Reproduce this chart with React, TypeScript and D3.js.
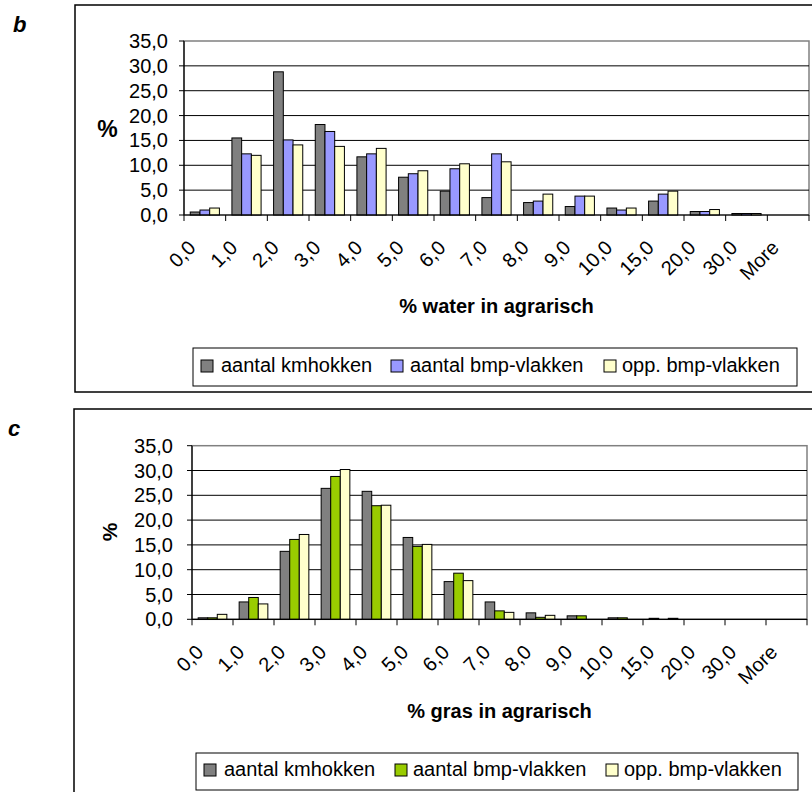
import React from "react";
import * as d3 from "d3";

const categories = ["0,0", "1,0", "2,0", "3,0", "4,0", "5,0", "6,0", "7,0", "8,0", "9,0", "10,0", "15,0", "20,0", "30,0", "More"];
const yTicks = [0, 5, 10, 15, 20, 25, 30, 35];
const seriesNames = ["aantal kmhokken", "aantal bmp-vlakken", "opp. bmp-vlakken"];

// chart b: % water in agrarisch
const waterKmhokken = [0.6, 15.5, 28.8, 18.2, 11.7, 7.6, 4.8, 3.5, 2.5, 1.7, 1.4, 2.8, 0.7, 0.3, 0];
const waterBmpAantal = [1.0, 12.3, 15.1, 16.8, 12.3, 8.3, 9.3, 12.3, 2.8, 3.8, 1.0, 4.2, 0.7, 0.3, 0];
const waterBmpOpp = [1.4, 12.0, 14.1, 13.8, 13.4, 8.9, 10.3, 10.7, 4.2, 3.8, 1.4, 4.8, 1.1, 0.3, 0];

// chart c: % gras in agrarisch
const grasKmhokken = [0.3, 3.5, 13.7, 26.4, 25.8, 16.5, 7.6, 3.5, 1.3, 0.7, 0.3, 0.2, 0, 0, 0];
const grasBmpAantal = [0.3, 4.4, 16.1, 28.8, 22.9, 14.7, 9.3, 1.7, 0.4, 0.7, 0.3, 0, 0, 0, 0];
const grasBmpOpp = [1.0, 3.1, 17.1, 30.2, 23.0, 15.1, 7.8, 1.4, 0.8, 0, 0, 0.2, 0, 0, 0];

const FONT = "'Liberation Sans', Arial, sans-serif";

interface ChartProps {
  letter: string;
  letterX: number;
  title: string;
  series: number[][];
  colors: string[];
  box: { x: number; y: number; h: number };
  plot: { left: number; right: number; top: number; bottom: number };
  yLabelGap: number;
  pct: { x: number; y: number; rotate: boolean; size: number };
  titleY: number;
  legend: { x: number; y: number; w: number; h: number; swatchX: number[]; textX: number[]; baseline: number };
}

const Chart: React.FC<ChartProps> = ({ letter, letterX, title, series, colors, box, plot, yLabelGap, pct, titleY, legend }) => {
  const x = d3.scaleBand<string>()
    .domain(categories)
    .range([plot.left, plot.right])
    .paddingInner(0.3)
    .paddingOuter(0.15);
  const y = d3.scaleLinear().domain([0, 35]).range([plot.bottom, plot.top]);
  const step = x.step();
  const bw = x.bandwidth() / series.length;
  const tickXs = categories.map((c) => x(c)! - (step * 0.3) / 2).concat([plot.right]);

  return (
    <g>
      <rect x={box.x} y={box.y} width={900} height={box.h} fill="#fff" stroke="#000" strokeWidth={1.5} />
      <text x={letterX} y={box.y + 27} fontFamily={FONT} fontSize={22} fontWeight="bold" fontStyle="italic">{letter}</text>

      {/* plot area border */}
      <rect x={plot.left} y={plot.top} width={plot.right - plot.left} height={plot.bottom - plot.top} fill="none" stroke="#808080" strokeWidth={1.5} />

      {/* gridlines */}
      {yTicks.filter((t) => t > 0 && t < 35).map((t) => (
        <line key={t} x1={plot.left} x2={plot.right} y1={y(t)} y2={y(t)} stroke="#000" strokeWidth={1} />
      ))}

      {/* bars */}
      {series.map((vals, si) =>
        vals.map((v, i) =>
          v > 0 ? (
            <rect
              key={`${si}-${i}`}
              x={x(categories[i])! + si * bw}
              y={y(v)}
              width={bw}
              height={y(0) - y(v)}
              fill={colors[si]}
              stroke="#000"
              strokeWidth={1}
            />
          ) : null
        )
      )}

      {/* y axis */}
      <line x1={plot.left} x2={plot.left} y1={plot.top} y2={plot.bottom} stroke="#000" strokeWidth={1.2} />
      {yTicks.map((t) => (
        <g key={t}>
          <line x1={plot.left - 5} x2={plot.left} y1={y(t)} y2={y(t)} stroke="#000" strokeWidth={1} />
          <text x={plot.left - yLabelGap} y={y(t)} textAnchor="end" dominantBaseline="central" fontFamily={FONT} fontSize={20}>
            {d3.format(".1f")(t).replace(".", ",")}
          </text>
        </g>
      ))}

      {/* x axis */}
      <line x1={plot.left} x2={plot.right} y1={plot.bottom} y2={plot.bottom} stroke="#000" strokeWidth={1.2} />
      {tickXs.map((tx, i) => (
        <line key={i} x1={tx} x2={tx} y1={plot.bottom} y2={plot.bottom + 6} stroke="#000" strokeWidth={1} />
      ))}
      {categories.map((c) => {
        const cx = x(c)! + x.bandwidth() / 2;
        return (
          <text
            key={c}
            transform={`translate(${cx - 8},${plot.bottom + 34}) rotate(-45)`}
            textAnchor="end"
            fontFamily={FONT}
            fontSize={20}
          >
            {c}
          </text>
        );
      })}

      {/* axis titles */}
      {pct.rotate ? (
        <text transform={`translate(${pct.x},${pct.y}) rotate(-90)`} textAnchor="middle" dominantBaseline="central" fontFamily={FONT} fontSize={pct.size} fontWeight="bold">%</text>
      ) : (
        <text x={pct.x} y={pct.y} textAnchor="middle" dominantBaseline="central" fontFamily={FONT} fontSize={pct.size} fontWeight="bold">%</text>
      )}
      <text x={(plot.left + plot.right) / 2} y={titleY} textAnchor="middle" fontFamily={FONT} fontSize={20} fontWeight="bold">{title}</text>

      {/* legend */}
      <rect x={legend.x} y={legend.y} width={legend.w} height={legend.h} fill="#fff" stroke="#000" strokeWidth={1} />
      {seriesNames.map((name, i) => (
        <g key={name}>
          <rect x={legend.swatchX[i]} y={legend.baseline - 12} width={12} height={12} fill={colors[i]} stroke="#000" strokeWidth={1} />
          <text x={legend.textX[i]} y={legend.baseline} fontFamily={FONT} fontSize={20}>{name}</text>
        </g>
      ))}
    </g>
  );
};

export default function App() {
  return (
    <svg width={812} height={792} style={{ position: "absolute", left: 0, top: 0, background: "#fff" }}>
      <rect width={812} height={792} fill="#fff" />
      <Chart
        letter="b"
        letterX={13}
        title="% water in agrarisch"
        series={[waterKmhokken, waterBmpAantal, waterBmpOpp]}
        colors={["#808080", "#9999FF", "#FFFFCC"]}
        box={{ x: 75, y: 5, h: 387 }}
        plot={{ left: 184, right: 809, top: 41, bottom: 215 }}
        yLabelGap={16}
        pct={{ x: 107.5, y: 128.5, rotate: false, size: 23 }}
        titleY={313}
        legend={{ x: 193, y: 348, w: 604, h: 38, swatchX: [201, 391, 604], textX: [221, 410, 622], baseline: 372 }}
      />
      <Chart
        letter="c"
        letterX={8}
        title="% gras in agrarisch"
        series={[grasKmhokken, grasBmpAantal, grasBmpOpp]}
        colors={["#808080", "#99CC00", "#FFFFCC"]}
        box={{ x: 74, y: 409, h: 400 }}
        plot={{ left: 192, right: 807, top: 445.7, bottom: 619.3 }}
        yLabelGap={19}
        pct={{ x: 109.5, y: 532, rotate: true, size: 21 }}
        titleY={718}
        legend={{ x: 196, y: 753, w: 602, h: 37, swatchX: [204, 395, 606], textX: [224, 413, 624], baseline: 776 }}
      />
    </svg>
  );
}
